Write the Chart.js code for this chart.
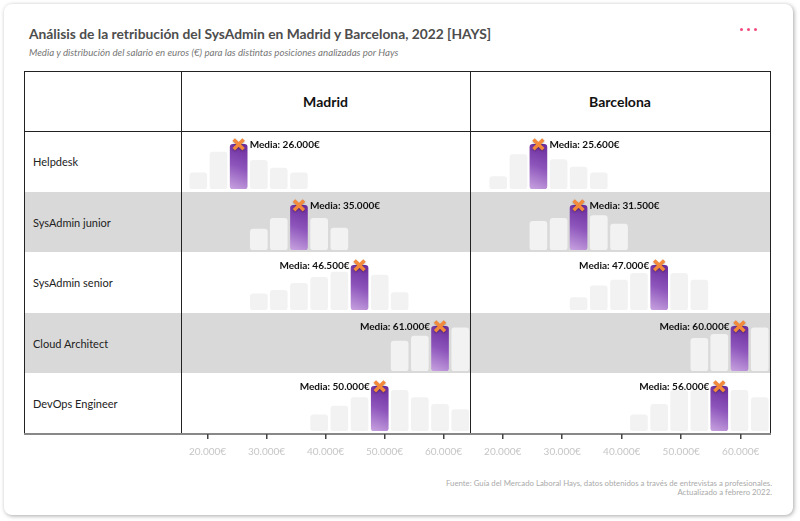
<!DOCTYPE html>
<html lang="es">
<head>
<meta charset="utf-8">
<title>Retribución SysAdmin Madrid y Barcelona 2022</title>
<script src="https://cdn.jsdelivr.net/npm/chart.js@4.4.1/dist/chart.umd.min.js"></script>
<style>
    html, body { margin: 0; padding: 0; background: #fff; width: 800px; height: 521px; overflow: hidden; font-family: Lato, sans-serif; }
    .abs { position: absolute; }
    .card { left: 4px; top: 4px; width: 789px; height: 511px; background: #fff; border-radius: 8px; box-shadow: 1px 1px 4px rgba(0,0,0,0.35); }
    .title { left: 29px; top: 25px; font-weight: bold; font-size: 13.8px; line-height: 17px; color: #4d4d4d; white-space: nowrap; }
    .subtitle { left: 29px; top: 46px; font-style: italic; font-size: 9.7px; line-height: 12px; color: #777; white-space: nowrap; }
    .dot { width: 3px; height: 3px; border-radius: 50%; background: #f24a7c; top: 28px; }
    .band { background: #d9d9d9; }
    .line { background: #222; }
    .rowlabel { left: 33px; display: flex; align-items: center; font-size: 11px; color: #222; }
    .head { display: flex; align-items: center; justify-content: center; font-weight: bold; font-size: 14px; color: #111; }
    .footer { right: 28px; top: 479px; text-align: right; font-size: 7.8px; line-height: 9px; color: #aaa; white-space: nowrap; }
    canvas { position: absolute; }
</style>
</head>
<body>
<div class="abs card"></div>
<div class="abs title">Análisis de la retribución del SysAdmin en Madrid y Barcelona, 2022 [HAYS]</div>
<div class="abs subtitle">Media y distribución del salario en euros (€) para las distintas posiciones analizadas por Hays</div>
<div class="abs dot" style="left:740px"></div>
<div class="abs dot" style="left:747px"></div>
<div class="abs dot" style="left:754px"></div>
<div id="table"></div>
<div class="abs footer">Fuente: Guía del Mercado Laboral Hays, datos obtenidos a través de entrevistas a profesionales.<br>Actualizado a febrero 2022.</div>

<script>
// Datos
const cities = ['Madrid', 'Barcelona'];
const positions = ['Helpdesk', 'SysAdmin junior', 'SysAdmin senior', 'Cloud Architect', 'DevOps Engineer'];
const xTicks = [20000, 30000, 40000, 50000, 60000];

// centros de los tramos salariales (€) de cada histograma
const madridBins = [18750, 22150, 25550, 28950, 32300, 35700, 39100, 42500, 45900, 49300, 52650, 56050, 59450, 62850];
const barcelonaBins = [19250, 22650, 26000, 29400, 32750, 36150, 39550, 42900, 46300, 49650, 53050, 56400, 59800, 63200];

// salario medio por posición
const madridMedia = [26000, 35000, 46500, 61000, 50000];
const barcelonaMedia = [25600, 31500, 47000, 60000, 56000];

// tramo en el que cae la media
const madridMediaBin = [2, 5, 8, 12, 9];
const barcelonaMediaBin = [2, 4, 8, 12, 11];

// frecuencia relativa por tramo (%), una fila por posición
const madridDist = [
    [36, 83, 100, 64, 47, 36, 0, 0, 0, 0, 0, 0, 0, 0],
    [0, 0, 0, 47, 71, 100, 71, 49, 0, 0, 0, 0, 0, 0],
    [0, 0, 0, 36, 44, 60, 73, 85, 100, 78, 39, 0, 0, 0],
    [0, 0, 0, 0, 0, 0, 0, 0, 0, 0, 67, 78, 100, 97],
    [0, 0, 0, 0, 0, 0, 36, 56, 75, 100, 91, 75, 60, 48]
];
const barcelonaDist = [
    [28, 77, 100, 66, 49, 36, 0, 0, 0, 0, 0, 0, 0, 0],
    [0, 0, 64, 71, 100, 77, 58, 0, 0, 0, 0, 0, 0, 0],
    [0, 0, 0, 0, 28, 54, 67, 82, 100, 82, 67, 0, 0, 0],
    [0, 0, 0, 0, 0, 0, 0, 0, 0, 0, 73, 82, 100, 97],
    [0, 0, 0, 0, 0, 0, 0, 36, 60, 91, 91, 100, 91, 75]
];

// Layout
const panels = [
    { left: 182, width: 288, min: 16010, max: 64495, bins: madridBins, dist: madridDist, media: madridMedia, mediaBin: madridMediaBin },
    { left: 471, width: 299, min: 14672, max: 64924, bins: barcelonaBins, dist: barcelonaDist, media: barcelonaMedia, mediaBin: barcelonaMediaBin }
];
const tableTop = 71, headH = 60, rowH = 60.6, tableLeft = 24, tableRight = 770;
const tableBottom = 434;

Chart.defaults.font.family = 'Lato';

const fmt = v => String(v).replace(/\B(?=(\d{3})+(?!\d))/g, '.') + '€';

const table = document.getElementById('table');
const addDiv = (cls, style, text) => {
    const d = document.createElement('div');
    d.className = 'abs ' + cls;
    Object.assign(d.style, style);
    if (text) d.textContent = text;
    table.appendChild(d);
    return d;
};
const px = v => v + 'px';
const rowTop = i => Math.round(tableTop + headH + i * rowH);

// filas grises alternas
positions.forEach((p, i) => {
    if (i % 2 === 1) addDiv('band', { left: px(tableLeft), top: px(rowTop(i)), width: px(tableRight - tableLeft), height: px(rowTop(i + 1) - rowTop(i)) });
});

// bordes de la tabla
addDiv('line', { left: px(tableLeft), top: px(tableTop), width: px(tableRight - tableLeft + 1), height: '1px' });
addDiv('line', { left: px(tableLeft), top: px(tableTop + headH), width: px(tableRight - tableLeft + 1), height: '1px' });
[tableLeft, 181, 470, tableRight].forEach(x => {
    addDiv('line', { left: px(x), top: px(tableTop), width: '1px', height: px(tableBottom - tableTop) });
});
addDiv('', { left: px(tableLeft), top: px(tableBottom - 1), width: px(tableRight - tableLeft + 1), height: '2px', background: '#888' });

// cabeceras y etiquetas de fila
cities.forEach((c, j) => {
    addDiv('head', { left: px(j === 0 ? 181 : 470), top: px(tableTop), width: px(j === 0 ? 289 : 300), height: px(headH) }, c);
});
positions.forEach((p, i) => {
    addDiv('rowlabel', { top: px(rowTop(i)), height: px(rowTop(i + 1) - rowTop(i)) }, p);
});

// Plugin para la etiqueta "Media" y la sombra de la cruz
const mediaLabel = {
    id: 'mediaLabel',
    beforeDatasetDraw(chart, args) {
        if (args.index !== 0) return;
        chart.ctx.save();
        chart.ctx.shadowColor = 'rgba(0,0,0,0.3)';
        chart.ctx.shadowBlur = 2;
        chart.ctx.shadowOffsetY = 1;
    },
    afterDatasetDraw(chart, args) {
        if (args.index === 0) chart.ctx.restore();
    },
    afterDatasetsDraw(chart, args, opts) {
        const pt = chart.getDatasetMeta(0).data[0];
        if (!pt) return;
        const ctx = chart.ctx;
        const area = chart.chartArea;
        ctx.save();
        ctx.font = 'bold 10px Lato';
        ctx.fillStyle = '#111';
        ctx.textBaseline = 'middle';
        const text = 'Media: ' + fmt(opts.value);
        if (pt.x < (area.left + area.right) / 2) {
            ctx.textAlign = 'left';
            ctx.fillText(text, pt.x + 11, pt.y);
        } else {
            ctx.textAlign = 'right';
            ctx.fillText(text, pt.x - 10, pt.y);
        }
        ctx.restore();
    }
};

const purpleFill = (c) => {
    if (!c.raw || !c.raw.hl) return '#f2f2f2';
    const chart = c.chart;
    if (!chart.chartArea) return '#8a4fb8';
    const x = chart.scales.x.getPixelForValue(c.raw.x);
    const top = chart.scales.y.getPixelForValue(c.raw.y);
    const bottom = chart.scales.y.getPixelForValue(0);
    const g = chart.ctx.createLinearGradient(x + 9, top, x - 9, bottom);
    g.addColorStop(0, '#6a2a9c');
    g.addColorStop(0.5, '#8d55bb');
    g.addColorStop(1, '#c8a3e0');
    return g;
};

const makeCanvas = (left, top, w, h) => {
    const cv = document.createElement('canvas');
    cv.width = w;
    cv.height = h;
    cv.style.left = px(left);
    cv.style.top = px(top);
    document.body.appendChild(cv);
    return cv;
};

panels.forEach(panel => {
    positions.forEach((p, i) => {
        const dist = panel.dist[i];
        const hlBin = panel.mediaBin[i];
        const barData = [];
        dist.forEach((v, k) => {
            if (v > 0) barData.push({ x: panel.bins[k], y: v, hl: k === hlBin });
        });
        const cv = makeCanvas(panel.left, rowTop(i), panel.width, 61);
        new Chart(cv, {
            type: 'bar',
            data: {
                datasets: [
                    {
                        type: 'scatter',
                        data: [{ x: panel.bins[hlBin], y: dist[hlBin] }],
                        pointStyle: 'crossRot',
                        pointRadius: 7,
                        pointBorderWidth: 3.5,
                        pointBorderColor: '#f2893b',
                        borderColor: '#f2893b',
                        clip: false,
                        order: 0
                    },
                    {
                        data: barData,
                        backgroundColor: purpleFill,
                        borderRadius: 3,
                        borderSkipped: false,
                        barThickness: 17,
                        order: 1
                    }
                ]
            },
            options: {
                responsive: false,
                animation: false,
                events: [],
                layout: { autoPadding: false, padding: { top: 0, bottom: 3, left: 0, right: 0 } },
                scales: {
                    x: { type: 'linear', min: panel.min, max: panel.max, display: false, offset: false },
                    y: { min: 0, max: 130, display: false }
                },
                plugins: {
                    legend: { display: false },
                    tooltip: { enabled: false },
                    mediaLabel: { value: panel.media[i] }
                }
            },
            plugins: [mediaLabel]
        });
    });

    // eje x bajo cada columna
    const ax = makeCanvas(panel.left, tableBottom - 10, panel.width, 46);
    new Chart(ax, {
        type: 'scatter',
        data: { datasets: [] },
        options: {
            responsive: false,
            animation: false,
            events: [],
            layout: { autoPadding: false, padding: 0 },
            plugins: { legend: { display: false }, tooltip: { enabled: false } },
            scales: {
                x: {
                    type: 'linear',
                    min: panel.min,
                    max: panel.max,
                    position: 'bottom',
                    offset: false,
                    afterBuildTicks: a => { a.ticks = xTicks.map(v => ({ value: v })); },
                    afterFit: s => { s.height = 36; },
                    border: { display: false },
                    grid: { drawOnChartArea: false, drawTicks: true, tickLength: 5, color: '#444', lineWidth: 1.5 },
                    ticks: { padding: 7, color: '#c6c6c6', font: { size: 10 }, maxRotation: 0, autoSkip: false, callback: v => fmt(v) }
                },
                y: { display: false }
            }
        }
    });
});
</script>
</body>
</html>
